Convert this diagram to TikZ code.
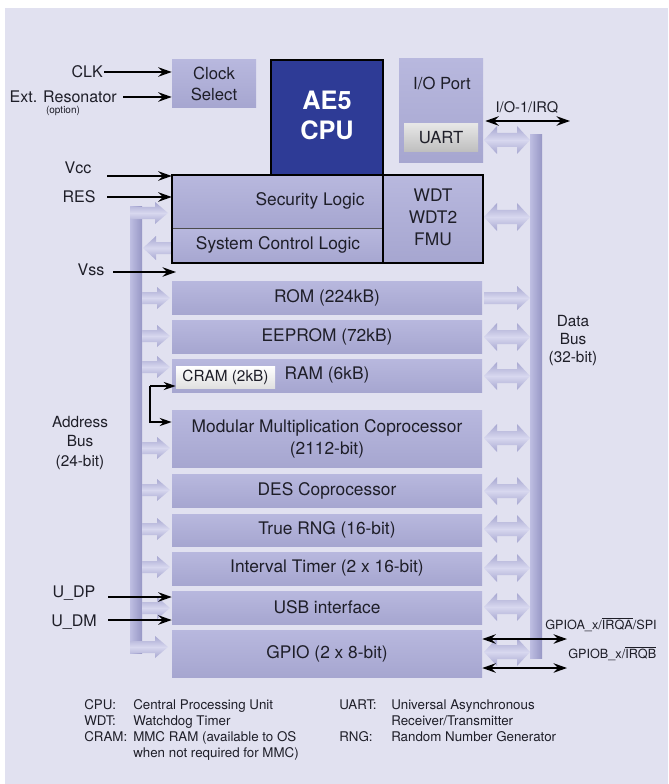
\documentclass[tikz,border=0pt]{standalone}
\usepackage{fontspec}
\setmainfont{TeX Gyre Heros}
\usetikzlibrary{arrows.meta,fit,calc}
\definecolor{bg}{HTML}{E1E1F0}
\definecolor{blkT}{HTML}{B8B8DE}
\definecolor{blkB}{HTML}{A6A6D0}
\definecolor{busC}{HTML}{A6A6D0}
\definecolor{busL}{HTML}{D8D8EF}
\definecolor{barL}{HTML}{BEBEE2}
\definecolor{barR}{HTML}{9797C5}
\definecolor{cpuC}{HTML}{2E3B96}
\definecolor{txt}{HTML}{1E1E28}
\definecolor{uartT}{HTML}{E6E6E6}
\definecolor{uartB}{HTML}{BEBEBE}
\newcommand{\busR}[5]{\path[busarrow] (#1,#3-#4) -- (#2-13,#3-#4) -- (#2-13,#3-#5) -- (#2,#3) -- (#2-13,#3+#5) -- (#2-13,#3+#4) -- (#1,#3+#4) -- cycle;}
\newcommand{\busL}[5]{\path[busarrow] (#1,#3-#4) -- (#2+13,#3-#4) -- (#2+13,#3-#5) -- (#2,#3) -- (#2+13,#3+#5) -- (#2+13,#3+#4) -- (#1,#3+#4) -- cycle;}
\newcommand{\busD}[5]{\path[busarrow] (#1,#3) -- (#1+13,#3-#5) -- (#1+13,#3-#4) -- (#2-13,#3-#4) -- (#2-13,#3-#5) -- (#2,#3) -- (#2-13,#3+#5) -- (#2-13,#3+#4) -- (#1+13,#3+#4) -- (#1+13,#3+#5) -- cycle;}
\tikzset{
  blk/.style={rectangle, inner sep=0pt, top color=blkT, bottom color=blkB},
  busarrow/.style={top color=busC, bottom color=busC, middle color=busL},
  busbar/.style={left color=barL, right color=barR},
  lbl/.style={text=txt, font=\fontsize{12}{14}\selectfont, inner sep=0pt, align=center},
  btxt/.style={text=txt, font=\fontsize{13}{16.5}\selectfont, inner sep=0pt, align=center},
  legend/.style={text=txt, font=\fontsize{10}{12}\selectfont, inner sep=0pt, anchor=base west},
  arr/.style={line width=1.5pt, -{Stealth[length=10pt,width=7pt]}},
  darr/.style={line width=1.5pt, {Stealth[length=10pt,width=7pt]}-{Stealth[length=10pt,width=7pt]}},
  carr/.style={line width=1.1pt, -{Stealth[length=9pt,width=6pt]}},
}
\begin{document}
\begin{tikzpicture}[x=0.75pt,y=-0.75pt]
\useasboundingbox (0,0) rectangle (668,784);
\fill[bg] (5,8) rectangle (668,784);

% buses
\fill[busbar] (530,135) rectangle (542,658);
\fill[busbar] (130,207) rectangle (142,653);
\busR{130}{168}{213}{6}{11}
\busR{130}{168}{647}{6}{11}
\busL{172}{143}{248}{6}{12}
\foreach \yy in {298,336,367,448,490,529,567,608} {\busR{142}{170}{\yy}{6}{11}}
\busR{484}{530}{298}{6}{12}
\foreach \yy in {140,217,337,376,438,491,529,568,607,652} {\busD{484}{530}{\yy}{7}{14}}

% top blocks
\node[blk, fit={(172,60)(256,108)}] (clock) {};
\node[btxt, font=\fontsize{12.5}{15.75}\selectfont] (clockt) at (clock.center) {Clock\\Select};
\node[fill=cpuC, draw=black, line width=1.5pt, inner sep=0pt, fit={(271,60)(383,175)}] (cpu) {};
\node[text=white, inner sep=0pt, font=\bfseries\fontsize{19}{22.5}\selectfont, align=center] (cput) at (327,115) {AE5\\CPU};
\node[blk, fit={(399,59)(483,163)}] (io) {};
\node[btxt, font=\fontsize{12.5}{15}\selectfont] (iot) at (442,83) {I/O Port};
\node[fit={(404,124)(478,152)}, inner sep=0pt, top color=uartT, bottom color=uartB] (uart) {};
\node[btxt, font=\fontsize{12.5}{15}\selectfont] (uartt) at (uart.center) {UART};

\node[blk, fit={(172,175)(383,228)}] (sec) {};
\node[blk, fit={(172,228)(383,263)}] (sys) {};
\node[blk, fit={(383,175)(483,263)}] (wdt) {};
\node[btxt] (wdtt) at (433,217) {WDT\\WDT2\\FMU};
\node[btxt] (sect) at (310,201) {Security Logic};
\node[btxt] (syst) at (278,245) {System Control Logic};
\draw[line width=0.9pt, color=black!70] (sec.south west) -- (sec.south east);
\draw[line width=1.2pt] (wdt.north west) -- (wdt.south west);
\draw[line width=1.5pt] (sec.north west) rectangle (wdt.south east);

% memory and peripheral blocks
\node[blk, fit={(172,281)(482,314)}] (rom) {};
\node[btxt] at (rom.center) {ROM (224kB)};
\node[blk, fit={(172,320)(482,353)}] (eep) {};
\node[btxt] at (eep.center) {EEPROM (72kB)};
\node[blk, fit={(172,359)(482,392)}] (ram) {};
\node[btxt] (ramt) at (327,375) {RAM (6kB)};
\node[fit={(176,366)(275,388)}, inner sep=0pt, top color=white, bottom color=black!12] (cram) {};
\node[btxt, font=\fontsize{11.5}{14}\selectfont] at (cram.center) {CRAM (2kB)};
\node[blk, fit={(172,410)(482,467)}] (mmc) {};
\node[btxt] at (mmc.center) {Modular Multiplication Coprocessor\\(2112-bit)};
\node[blk, fit={(172,474)(482,507)}] (des) {};
\node[btxt] at (des.center) {DES Coprocessor};
\node[blk, fit={(172,514)(482,546)}] (rng) {};
\node[btxt] at (rng.center) {True RNG (16-bit)};
\node[blk, fit={(172,552)(482,585)}] (tim) {};
\node[btxt] at (tim.center) {Interval Timer (2 x 16-bit)};
\node[blk, fit={(172,591)(482,624)}] (usb) {};
\node[btxt] at (usb.center) {USB interface};
\node[blk, fit={(172,630)(482,677)}] (gpio) {};
\node[btxt] at (gpio.center) {GPIO (2 x 8-bit)};

% CRAM connector
\coordinate (c1) at (150,386);
\coordinate (c2) at (150,422);
\draw[carr] (c1) -- (c1 -| cram.west);
\draw[carr] (c1) -- (c2) -- (c2 -| mmc.west);

% input labels and arrows
\node[lbl, anchor=east] (clk) at (103,72) {CLK};
\draw[arr] (clk.east) ++(1,0) -- (clk.east -| clock.west);
\node[lbl, anchor=east] (ext) at (117,97) {Ext. Resonator};
\coordinate (extS) at (123,97);
\draw[arr] (extS) -- (extS -| clock.west);
\node[lbl, font=\fontsize{7.5}{9}\selectfont] (opt) at (63,111) {(option)};
\node[lbl] (vcc) at (78,168) {Vcc};
\coordinate (vccS) at (107,176);
\draw[arr] (vccS) -- (vccS -| sec.west);
\node[lbl] (res) at (79,197) {RES};
\coordinate (resS) at (107,197);
\draw[arr] (resS) -- (resS -| sec.west);
\node[lbl] (vss) at (91,270) {Vss};
\coordinate (vssS) at (113,272);
\coordinate (vssE) at (176,272);
\draw[arr] (vssS) -- (vssE);
\node[lbl] (udp) at (74,593) {U\_DP};
\coordinate (udpS) at (108,597);
\draw[arr] (udpS) -- (udpS -| usb.west);
\node[lbl] (udm) at (74,622) {U\_DM};
\coordinate (udmS) at (108,620);
\draw[arr] (udmS) -- (udmS -| usb.west);

% right side
\node[lbl, font=\fontsize{11}{13}\selectfont] (irq) at (527,107) {I/O-1/IRQ};
\coordinate (irqE) at (570,121);
\draw[darr] ($(irqE -| io.east)+(2,0)$) -- (irqE);
\node[lbl, anchor=west, font=\fontsize{9.5}{11}\selectfont] (ga) at (545,625) {GPIOA\_x/$\overline{\mbox{IRQA}}$/SPI};
\coordinate (gaE) at (567,639);
\draw[darr] (gaE -| gpio.east) -- (gaE);
\node[lbl, anchor=west, font=\fontsize{9.5}{11}\selectfont] (gb) at (568,654) {GPIOB\_x/$\overline{\mbox{IRQB}}$};
\coordinate (gbE) at (567,668);
\draw[darr] (gbE -| gpio.east) -- (gbE);

\node[lbl, font=\fontsize{11.5}{13.5}\selectfont] (dbus) at (573,341) {Data\\Bus\\(32-bit)};
\node[lbl, font=\fontsize{11.5}{14.5}\selectfont] (abus) at (80,443) {Address\\Bus\\(24-bit)};

% legend
\node[legend] at (84,709.5) {CPU:};
\node[legend] at (133,709.5) {Central Processing Unit};
\node[legend] at (339,709.5) {UART:};
\node[legend] at (391,709.5) {Universal Asynchronous};
\node[legend] at (84,725) {WDT:};
\node[legend] at (133,725) {Watchdog Timer};
\node[legend] at (391,725) {Receiver/Transmitter};
\node[legend] at (84,741) {CRAM:};
\node[legend] at (133,741) {MMC RAM (available to OS};
\node[legend] at (339,741) {RNG:};
\node[legend] at (391,741) {Random Number Generator};
\node[legend] at (133,757) {when not required for MMC)};
\end{tikzpicture}
\end{document}
